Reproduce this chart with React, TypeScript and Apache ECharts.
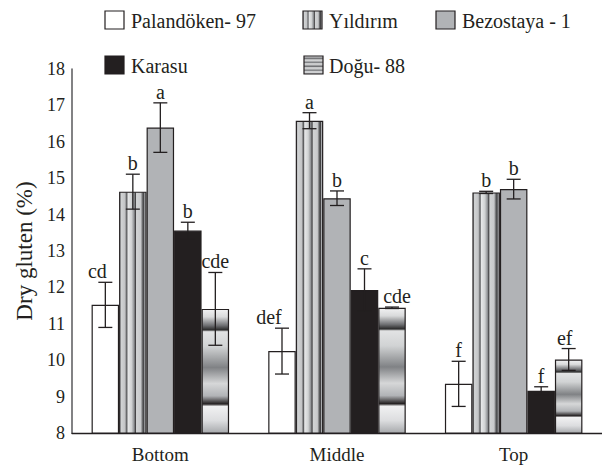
import React, { useEffect, useRef } from "react";
import * as echarts from "echarts";

const categories = ["Bottom", "Middle", "Top"];
const seriesNames = ["Palandöken- 97", "Yıldırım", "Bezostaya - 1", "Karasu", "Doğu- 88"];
const yTicks = [8, 18];

const palandoken = [11.52, 10.25, 9.35];
const yildirim = [14.63, 16.58, 14.61];
const bezostaya = [16.39, 14.45, 14.7];
const karasu = [13.56, 11.93, 9.16];
const dogu = [11.41, 11.44, 10.02];

const palandokenErr = [0.62, 0.63, 0.62];
const yildirimErr = [0.48, 0.22, 0.03];
const bezostayaErr = [0.68, 0.2, 0.27];
const karasuErr = [0.23, 0.58, 0.11];
const doguErr = [1.0, 0.02, 0.3];

const palandokenLetters = ["cd", "def", "f"];
const yildirimLetters = ["b", "a", "b"];
const bezostayaLetters = ["a", "b", "b"];
const karasuLetters = ["b", "c", "f"];
const doguLetters = ["cde", "cde", "ef"];

const values = [palandoken, yildirim, bezostaya, karasu, dogu];
const errors = [palandokenErr, yildirimErr, bezostayaErr, karasuErr, doguErr];
const letters = [palandokenLetters, yildirimLetters, bezostayaLetters, karasuLetters, doguLetters];

// style config (not data)
const BAR_W = 27.5;
const INK = "#231f20";
const FONT = "Liberation Serif";
const labelDx = [[-8, -13, 0], [0, 0, 0], [0, 0, 0], [0, 0, 0], [0, 5, -4]];

const stripesV = {
  type: "linear", x: 0, y: 0, x2: 1, y2: 0,
  colorStops: [
    { offset: 0, color: "#9a9c9f" },
    { offset: 0.06, color: "#d1d3d4" },
    { offset: 0.2, color: "#c3c4c6" },
    { offset: 0.27, color: "#58595b" },
    { offset: 0.32, color: "#e6e7e8" },
    { offset: 0.45, color: "#d0d2d3" },
    { offset: 0.55, color: "#8f9194" },
    { offset: 0.6, color: "#414042" },
    { offset: 0.64, color: "#d1d3d4" },
    { offset: 0.8, color: "#c8c9cb" },
    { offset: 0.88, color: "#58595b" },
    { offset: 0.92, color: "#414042" },
    { offset: 0.95, color: "#a7a9ac" },
    { offset: 1, color: "#b5b6b8" },
  ],
};

const stripesH = {
  type: "linear", x: 0, y: 0, x2: 0, y2: 1,
  colorStops: [
    { offset: 0, color: "#f1f1f2" },
    { offset: 0.06, color: "#d9dadb" },
    { offset: 0.13, color: "#6d6e71" },
    { offset: 0.165, color: "#2b2b2b" },
    { offset: 0.18, color: "#e2e3e4" },
    { offset: 0.3, color: "#d1d3d4" },
    { offset: 0.47, color: "#808285" },
    { offset: 0.6, color: "#d6d7d8" },
    { offset: 0.7, color: "#b1b3b6" },
    { offset: 0.765, color: "#231f20" },
    { offset: 0.785, color: "#f1f1f2" },
    { offset: 0.9, color: "#dcdddf" },
    { offset: 1, color: "#a7a9ac" },
  ],
};

const iconStripesH = {
  type: "linear", x: 0, y: 0, x2: 0, y2: 1,
  colorStops: [
    { offset: 0, color: "#e6e7e8" },
    { offset: 0.15, color: "#6d6e71" },
    { offset: 0.22, color: "#e6e7e8" },
    { offset: 0.36, color: "#808285" },
    { offset: 0.44, color: "#e6e7e8" },
    { offset: 0.58, color: "#6d6e71" },
    { offset: 0.66, color: "#e6e7e8" },
    { offset: 0.8, color: "#808285" },
    { offset: 0.88, color: "#e6e7e8" },
    { offset: 1, color: "#9d9fa2" },
  ],
};

const fills: any[] = ["#ffffff", stripesV, "#b1b3b6", INK, stripesH];
const iconFills: any[] = ["#ffffff", stripesV, "#b1b3b6", INK, iconStripesH];

const legendPos = [
  { x: 105, y: 11, tx: 131 },
  { x: 303, y: 11, tx: 329 },
  { x: 436, y: 11, tx: 462 },
  { x: 105, y: 56, tx: 131 },
  { x: 304, y: 56, tx: 329 },
];

export default function App() {
  const ref = useRef<HTMLDivElement>(null);
  useEffect(() => {
    if (!ref.current) return;
    const chart = echarts.init(ref.current, null, { renderer: "svg" });

    const barSeries = values.map((vals, i) => ({
      type: "bar",
      name: seriesNames[i],
      data: vals,
      barWidth: BAR_W,
      barGap: "0%",
      itemStyle: { color: fills[i], borderColor: INK, borderWidth: 1.2 },
      z: 2,
    }));

    const errSeries = values.map((vals, i) => ({
      type: "custom",
      z: 5,
      data: vals.map((v, c) => [c, v - errors[i][c], v + errors[i][c]]),
      renderItem: (params: any, api: any) => {
        const c = api.value(0);
        const lo = api.value(1);
        const hi = api.value(2);
        const pTop = api.coord([c, hi]);
        const pBot = api.coord([c, lo]);
        const x = pTop[0] + (i - 2) * BAR_W;
        const st = { stroke: INK, lineWidth: 1.3 };
        return {
          type: "group",
          children: [
            { type: "line", shape: { x1: x, y1: pTop[1], x2: x, y2: pBot[1] }, style: st },
            { type: "line", shape: { x1: x - 7, y1: pTop[1], x2: x + 7, y2: pTop[1] }, style: st },
            { type: "line", shape: { x1: x - 7, y1: pBot[1], x2: x + 7, y2: pBot[1] }, style: st },
            {
              type: "text",
              x: x + labelDx[i][c],
              y: pTop[1] - 1,
              style: {
                text: letters[i][c],
                fill: INK,
                fontSize: 20,
                fontFamily: FONT,
                align: "center",
                verticalAlign: "bottom",
              },
            },
          ],
        };
      },
    }));

    const legendGraphics: any[] = [];
    seriesNames.forEach((n, i) => {
      const p = legendPos[i];
      legendGraphics.push({
        type: "rect",
        shape: { x: p.x, y: p.y, width: 19, height: 18 },
        style: { fill: iconFills[i], stroke: INK, lineWidth: 1.2 },
      });
      legendGraphics.push({
        type: "text",
        x: p.tx,
        y: p.y + 10,
        style: {
          text: n,
          fill: INK,
          fontSize: 20,
          fontFamily: FONT,
          verticalAlign: "middle",
          align: "left",
        },
      });
    });

    chart.setOption({
      animation: false,
      textStyle: { fontFamily: FONT },
      grid: { left: 72, top: 69, bottom: 32, width: 532 },
      xAxis: {
        type: "category",
        data: categories,
        axisLine: { lineStyle: { color: INK, width: 1.3 } },
        axisTick: { show: false },
        axisLabel: { color: INK, fontSize: 19, fontFamily: FONT, margin: 12 },
      },
      yAxis: {
        type: "value",
        min: yTicks[0],
        max: yTicks[1],
        interval: 1,
        name: "Dry gluten (%)",
        nameLocation: "middle",
        nameGap: 29,
        nameRotate: 90,
        nameTextStyle: { color: INK, fontSize: 23, fontFamily: FONT },
        axisLine: { show: true, lineStyle: { color: "#58595b", width: 1.5 } },
        axisTick: { show: false },
        splitLine: { show: false },
        axisLabel: { color: INK, fontSize: 18, fontFamily: FONT, margin: 7 },
      },
      graphic: legendGraphics,
      series: [...barSeries, ...errSeries],
    });
    return () => chart.dispose();
  }, []);
  return (
    <div
      ref={ref}
      style={{ position: "fixed", left: 0, top: 0, width: 602, height: 465, background: "#fff" }}
    />
  );
}
